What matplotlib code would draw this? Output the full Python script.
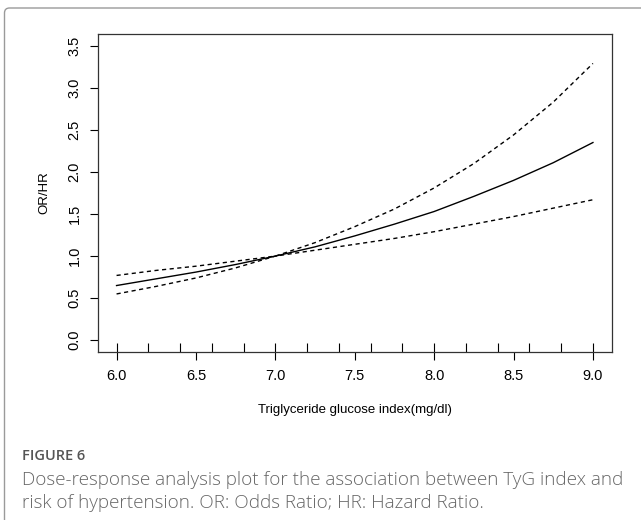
import matplotlib
matplotlib.use("Agg")
import matplotlib.pyplot as plt
from matplotlib.patches import FancyBboxPatch
from matplotlib.ticker import MultipleLocator

# values (TyG index vs OR/HR)
tyg = [6.0, 6.25, 6.5, 6.75, 7.0, 7.25, 7.5, 7.75, 8.0, 8.25, 8.5, 8.75, 9.0]
or_hr = [0.65, 0.73, 0.81, 0.90, 1.00, 1.11, 1.24, 1.38, 1.53, 1.71, 1.90, 2.11, 2.35]
upper = [0.77, 0.83, 0.88, 0.94, 1.00, 1.16, 1.35, 1.56, 1.81, 2.10, 2.44, 2.83, 3.29]
lower = [0.55, 0.64, 0.74, 0.86, 1.00, 1.07, 1.14, 1.21, 1.29, 1.38, 1.47, 1.57, 1.67]

xticks = [6.0, 6.5, 7.0, 7.5, 8.0, 8.5, 9.0]
yticks = [0.0, 0.5, 1.0, 1.5, 2.0, 2.5, 3.0, 3.5]

plt.rcParams['font.family'] = ['Liberation Sans', 'DejaVu Sans']

fig = plt.figure(figsize=(6.41, 5.2), dpi=100)

# outer frame of the figure panel
frame = FancyBboxPatch((0.045, -0.5), 7.0, 5.12 + 0.5,
                       boxstyle="round,pad=0,rounding_size=0.05",
                       transform=fig.dpi_scale_trans, fill=False,
                       edgecolor='#9a9a9a', linewidth=1.0)
fig.patches.append(frame)

ax = fig.add_axes([97.5 / 641, 1 - 352 / 520, (612 - 97.5) / 641, (352 - 34) / 520])

ax.plot(tyg, or_hr, color='black', linewidth=1.0)
ax.plot(tyg, upper, color='black', linewidth=1.0, linestyle=(0, (3, 2.5)))
ax.plot(tyg, lower, color='black', linewidth=1.0, linestyle=(0, (3, 2.5)))

ax.set_xlim(5.88, 9.12)
ax.set_ylim(-0.14, 3.64)

ax.set_xticks(xticks)
ax.set_xticklabels([f"{t:.1f}" for t in xticks])
ax.set_yticks(yticks)
ax.set_yticklabels([f"{t:.1f}" for t in yticks], rotation=90, va='center')
ax.xaxis.set_minor_locator(MultipleLocator(0.2))
ax.xaxis.remove_overlapping_locs = False

ax.tick_params(axis='both', which='major', direction='out', length=5.5, width=0.8,
               labelsize=10.5)
ax.tick_params(axis='x', which='major', pad=7)
ax.tick_params(axis='y', which='major', pad=6)
ax.tick_params(axis='x', which='minor', direction='in', length=6.5, width=0.8)
ax.tick_params(axis='y', which='minor', left=False)

for s in ax.spines.values():
    s.set_linewidth(0.9)
    s.set_color('#333333')

ax.set_xlabel('Triglyceride glucose index(mg/dl)', fontsize=9.5, labelpad=15)
ax.set_ylabel('OR/HR', fontsize=9.5, labelpad=12)

fig.text(22 / 641, 1 - 456 / 520, 'FIGURE 6', fontsize=10.5, color='#555555',
         fontweight='semibold', family=['Open Sans', 'DejaVu Sans'], va='center')
fig.text(22 / 641, 1 - 480 / 520,
         'Dose-response analysis plot for the association between TyG index and',
         fontsize=13.6, color='#666666', family=['Open Sans', 'DejaVu Sans'],
         fontweight='light', va='center')
fig.text(22 / 641, 1 - 503 / 520,
         'risk of hypertension. OR: Odds Ratio; HR: Hazard Ratio.',
         fontsize=13.6, color='#666666', family=['Open Sans', 'DejaVu Sans'],
         fontweight='light', va='center')

fig.savefig('out.png', dpi=100)
